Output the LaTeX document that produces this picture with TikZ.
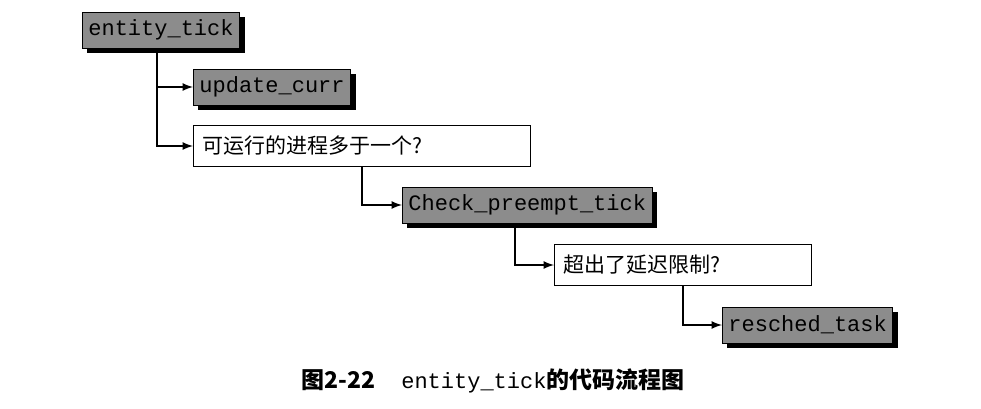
\documentclass[tikz,border=0pt]{standalone}
\usepackage{fontspec}
\setmonofont{Liberation Mono}
\newfontfamily\cjk{Noto Sans CJK SC}
\usepackage{tikz}
\usetikzlibrary{arrows,shapes,shadows}
\definecolor{boxgray}{gray}{0.55}
\tikzstyle{func} = [draw, rectangle, fill=boxgray, minimum height=18pt,
    inner xsep=3pt, font=\fontsize{11}{13}\selectfont\ttfamily,
    drop shadow={shadow xshift=2.5pt, shadow yshift=-2.5pt, fill=black, opacity=1}]
\tikzstyle{query} = [draw, rectangle, fill=white, minimum height=20.5pt,
    inner xsep=4.5pt, align=left, font=\fontsize{10.5}{12}\selectfont\cjk]
\tikzstyle{line} = [draw, thick, -latex]

\begin{document}
\begin{tikzpicture}[x=0.5pt, y=-0.5pt]
  \useasboundingbox (0,0) rectangle (981,408);
  % Place nodes
  \node [func, anchor=west] (tick) at (82,30) {entity\_tick};
  \node [func, anchor=west] (upd) at (193,87) {update\_curr};
  \node [query, anchor=west, text width=159.5pt] (more) at (193,146)
  {可运行的进程多于一个?};
  \node [func, anchor=west] (chk) at (402,205) {Check\_preempt\_tick};
  \node [query, anchor=west, text width=119.5pt] (lat) at (554,265)
  {超出了延迟限制?};
  \node [func, anchor=west] (res) at (722,325) {resched\_task};
  % Caption
  \node (cap) at (493,381) {{\fontsize{11.5}{13}\selectfont\cjk\bfseries 图2-22}%
    \hspace{13pt}{\fontsize{11}{13}\selectfont\ttfamily entity\_tick}%
    {\fontsize{11.5}{13}\selectfont\cjk\bfseries 的代码流程图}};
  % Draw edges
  \path [line] ([xshift=-2pt]tick.south) |- (upd.west);
  \path [line] ([xshift=-2pt]tick.south) |- (more.west);
  \path [line] (more.south) |- (chk.west);
  \path [line] ([xshift=-6pt]chk.south) |- (lat.west);
  \path [line] (lat.south) |- (res.west);
\end{tikzpicture}
\end{document}
